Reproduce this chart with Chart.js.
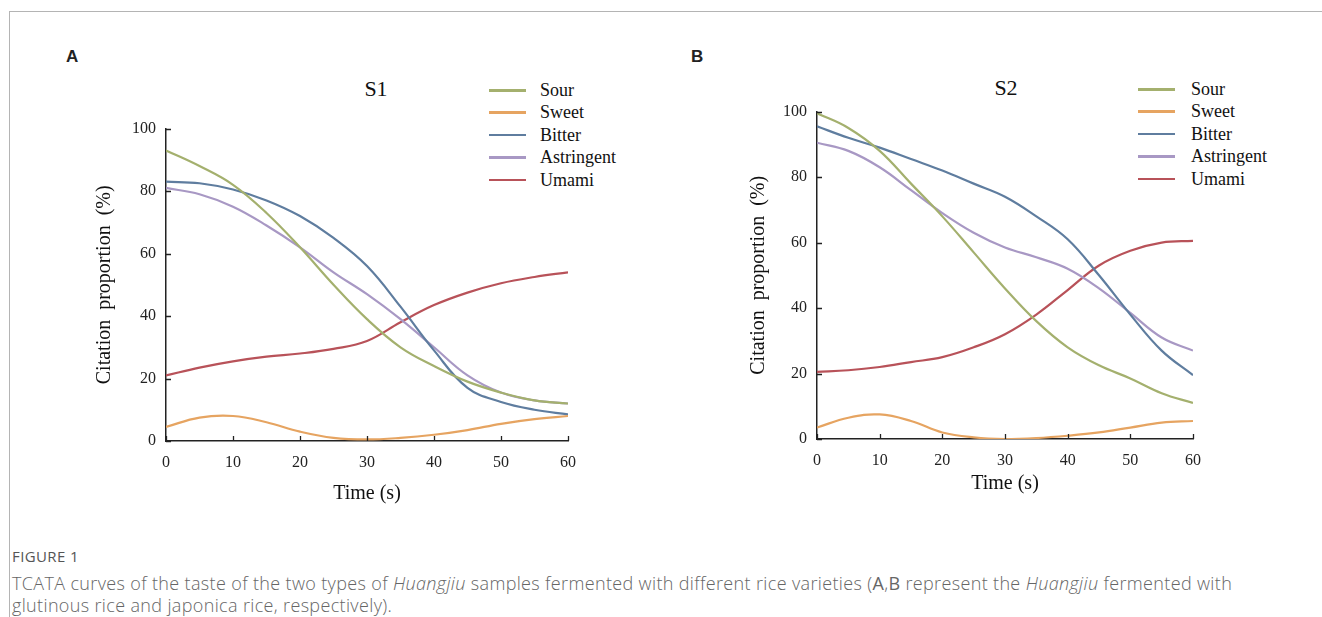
<!DOCTYPE html>
<html>
<head>
<meta charset="utf-8">
<script src="https://cdn.jsdelivr.net/npm/chart.js@4"></script>
<style>
  html, body { margin: 0; padding: 0; background: #fff; }
  body { width: 1322px; height: 617px; position: relative; overflow: hidden; }
  .frame { position: absolute; left: 9px; top: 11px; right: -2px; bottom: -2px;
           border-left: 1px solid #b4b4b4; border-top: 1px solid #b4b4b4; }
  .panel-tag { position: absolute; font: bold 17px "Liberation Sans", Arial, sans-serif; color: #222; }
  .ptitle { position: absolute; font: 22px "Liberation Serif", "Times New Roman", serif; color: #111;
            transform: translate(-50%, -50%); }
  .legend { position: absolute; font: 18px "Liberation Serif", "Times New Roman", serif; color: #111; }
  .legend .row { position: absolute; white-space: nowrap; height: 22px; line-height: 22px; }
  .legend .swatch { position: absolute; top: 10px; height: 2.5px; }
  .legend .txt { position: absolute; top: 0; }
  canvas { position: absolute; }
  .caption { position: absolute; left: 12px; font-family: "Open Sans", sans-serif; }
  .fig { top: 546px; font-size: 15px; letter-spacing: 0.4px; color: #555; }
  .cap { top: 572px; font-size: 18px; line-height: 22px; width: 1310px; white-space: nowrap;
         letter-spacing: 0.35px; color: #666; font-weight: 300; }
</style>
</head>
<body>
<div class="frame"></div>

<div class="panel-tag" style="left:66px; top:47px;">A</div>
<div class="panel-tag" style="left:691px; top:47px;">B</div>
<div class="ptitle" style="left:376px; top:89px;">S1</div>
<div class="ptitle" style="left:1006px; top:88px;">S2</div>
<div class="legend" id="legendA" style="left:489px; top:79px;"></div>
<div class="legend" id="legendB" style="left:1138px; top:78px;"></div>

<canvas id="chartA" width="508" height="401" style="left:80px; top:109px;"></canvas>
<canvas id="chartB" width="483" height="408" style="left:730px; top:92px;"></canvas>

<div class="caption fig">FIGURE 1</div>
<div class="caption cap">TCATA curves of the taste of the two types of <i>Huangjiu</i> samples fermented with different rice varieties (<b>A</b>,<b>B</b> represent the <i>Huangjiu</i> fermented with<br>glutinous rice and japonica rice, respectively).</div>

<script>
// time points (s)
const timeS = [0, 5, 10, 15, 20, 25, 30, 35, 40, 45, 50, 55, 60];
const tasteNames = ['Sour', 'Sweet', 'Bitter', 'Astringent', 'Umami'];
const tasteColors = ['#a4b06e', '#e6a461', '#5f7d9f', '#a898c4', '#b85259'];
const yTicks = [0, 20, 40, 60, 80, 100];
const xTicks = [0, 10, 20, 30, 40, 50, 60];

// S1 (glutinous rice)
const s1Sour       = [93, 88, 82, 73, 62, 50, 39, 30, 24, 19, 15.5, 13, 12];
const s1Sweet      = [4.5, 7.5, 8, 6, 3, 1, 0.5, 1, 2, 3.5, 5.5, 7, 8];
const s1Bitter     = [83, 82.5, 80.5, 77, 72, 65, 56, 43, 29, 17, 12.5, 10, 8.5];
const s1Astringent = [81, 79, 75, 69, 62, 54, 47, 39, 30, 21, 15.5, 13, 12];
const s1Umami      = [21, 23.5, 25.5, 27, 28, 29.5, 32, 38, 43.5, 47.5, 50.5, 52.5, 54];

// S2 (japonica rice)
const s2Sour       = [99.5, 95, 88, 78, 68, 57, 46, 36, 28, 22.5, 18.5, 14, 11];
const s2Sweet      = [3.5, 6.5, 7.5, 5.5, 2, 0.5, 0, 0.3, 1, 2, 3.5, 5, 5.5];
const s2Bitter     = [95.5, 92, 89, 85.5, 82, 78, 74, 68, 61, 50, 38, 27, 19.5];
const s2Astringent = [90.5, 88, 83, 76, 69, 63, 58.5, 55.5, 52, 46, 38.5, 31, 27];
const s2Umami      = [20.5, 21, 22, 23.5, 25, 28, 32, 38, 45.5, 53, 57.5, 60, 60.5];

const serif = '"Liberation Serif", "Times New Roman", serif';

function buildLegend(id) {
  const box = document.getElementById(id);
  const textLeft = id === 'legendA' ? 51 : 53;
  const lineW = 37;
  tasteNames.forEach((name, i) => {
    const row = document.createElement('div');
    row.className = 'row';
    row.style.top = (i * 22.4) + 'px';
    row.innerHTML = '<span class="swatch" style="left:0;width:' + lineW + 'px;background:' +
      tasteColors[i] + '"></span><span class="txt" style="left:' + textLeft + 'px">' + name + '</span>';
    box.appendChild(row);
  });
}

// ticks drawn on the inner side of the axes
const innerTicks = {
  id: 'innerTicks',
  afterDraw(chart) {
    const ctx = chart.ctx;
    const { left, bottom } = chart.chartArea;
    const x = chart.scales.x, y = chart.scales.y;
    ctx.save();
    ctx.strokeStyle = '#222';
    ctx.lineWidth = 1.3;
    ctx.beginPath();
    xTicks.forEach(t => {
      const px = Math.round(x.getPixelForValue(t)) + 0.5;
      ctx.moveTo(px, bottom);
      ctx.lineTo(px, bottom - 5);
    });
    yTicks.forEach(t => {
      const py = Math.round(y.getPixelForValue(t)) + 0.5;
      ctx.moveTo(left, py);
      ctx.lineTo(left + 5, py);
    });
    ctx.stroke();
    ctx.restore();
  }
};

function makeChart(canvasId, series, opts) {
  const ctx = document.getElementById(canvasId).getContext('2d');
  return new Chart(ctx, {
    type: 'line',
    data: {
      datasets: series.map((vals, i) => ({
        label: tasteNames[i],
        data: vals.map((v, k) => ({ x: timeS[k], y: v })),
        borderColor: tasteColors[i],
        borderWidth: 2.2,
        pointRadius: 0,
        tension: 0.4,
        fill: false
      }))
    },
    options: {
      responsive: false,
      animation: false,
      layout: { padding: 0 },
      plugins: { legend: { display: false }, tooltip: { enabled: false } },
      scales: {
        x: {
          type: 'linear', min: 0, max: 60,
          afterBuildTicks: s => { s.ticks = xTicks.map(v => ({ value: v })); },
          afterFit: s => { s.height = opts.xHeight; },
          grid: { display: false, drawTicks: false },
          border: { display: true, color: '#222', width: 1.5 },
          ticks: { color: '#222', padding: 12, maxRotation: 0, font: { family: serif, size: 16 } },
          title: { display: true, text: 'Time (s)', color: '#111',
                   padding: { top: 0, bottom: opts.xTitlePad }, font: { family: serif, size: 20 } }
        },
        y: {
          min: 0, max: 100,
          afterBuildTicks: s => { s.ticks = yTicks.map(v => ({ value: v })); },
          afterFit: s => { s.width = opts.yWidth; },
          grid: { display: false, drawTicks: false },
          border: { display: true, color: '#222', width: 1.5 },
          ticks: { color: '#222', padding: 10, font: { family: serif, size: 16 } },
          title: { display: true, text: 'Citation  proportion  (%)', color: '#111',
                   padding: { top: opts.yTitlePad, bottom: 0 }, font: { family: serif, size: 20 } }
        }
      }
    },
    plugins: [innerTicks]
  });
}

buildLegend('legendA');
buildLegend('legendB');

makeChart('chartA', [s1Sour, s1Sweet, s1Bitter, s1Astringent, s1Umami],
  { xHeight: 69, yWidth: 86, xTitlePad: 4, yTitlePad: 13 });
makeChart('chartB', [s2Sour, s2Sweet, s2Bitter, s2Astringent, s2Umami],
  { xHeight: 61, yWidth: 87, xTitlePad: 4, yTitlePad: 17 });
</script>
</body>
</html>
